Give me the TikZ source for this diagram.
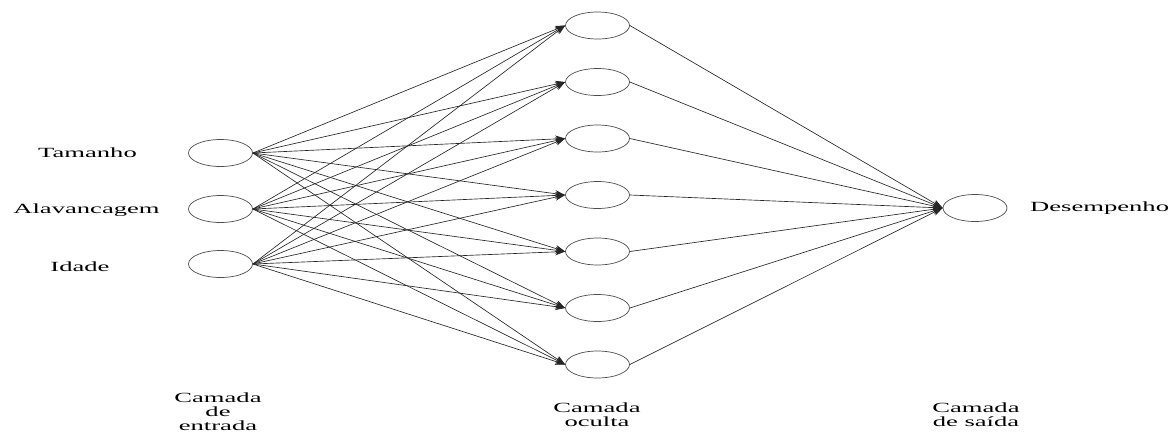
\documentclass[tikz,border=0pt]{standalone}
\usepackage{fontspec}
\setmainfont[FakeStretch=1.9]{Liberation Serif}
\usetikzlibrary{shapes.geometric,arrows.meta}
\begin{document}
\begin{tikzpicture}[x=1pt, y=-1pt,
    neuron/.style={draw=black!70, line width=0.7pt, ellipse, minimum width=64pt, minimum height=27pt, inner sep=0pt},
    lbl/.style={font=\fontsize{14pt}{14pt}\selectfont, inner sep=0pt},
    edge/.style={draw=black!85, line width=0.65pt, -{Stealth[length=10pt,width=7pt]}}
  ]
    \useasboundingbox (0,0) rectangle (1174,434);
    % camada de entrada
    \foreach \i/\y in {1/153, 2/209, 3/264}
      \node[neuron] (in\i) at (220.5,\y) {};
    % camada oculta
    \foreach \i/\y in {1/25.5, 2/82, 3/138.5, 4/195, 5/251.5, 6/308, 7/364.5}
      \node[neuron] (hid\i) at (597.5,\y) {};
    % camada de saida
    \node[neuron] (out) at (975,208) {};
    \foreach \i in {1,2,3}
      \foreach \j in {1,...,7}
        \draw[edge] (in\i.east) -- (hid\j.west);
    \foreach \j in {1,...,7}
      \draw[edge] (hid\j.east) -- (out.west);
    \node[lbl, anchor=base] (tam) at (87.5,157) {Tamanho};
    \node[lbl, anchor=base] (ala) at (86.5,213) {Alavancagem};
    \node[lbl, anchor=base] (ida) at (80,271) {Idade};
    \node[lbl, anchor=base west] (des) at (1030,211) {Desempenho};
    \node[lbl, align=center, anchor=north] (entrada) at (218,393) {Camada\\de\\entrada};
    \node[lbl, align=center, anchor=north] (oculta) at (597,403) {Camada\\oculta};
    \node[lbl, align=center, anchor=north] (saida) at (976,403) {Camada\\de saída};
\end{tikzpicture}
\end{document}
